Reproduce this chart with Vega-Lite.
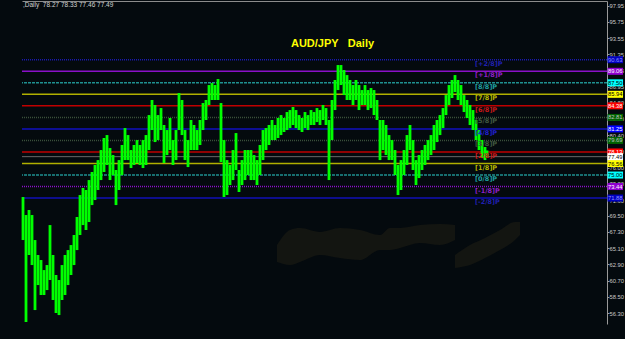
{
  "$schema": "https://vega.github.io/schema/vega-lite/v6.json",
  "width": 585,
  "height": 323,
  "autosize": {"type": "none"},
  "padding": {"left": 22, "top": 1, "right": 18, "bottom": 15},
  "background": "#040a0e",
  "config": {
    "view": {"stroke": null},
    "font": "Liberation Sans",
    "axis": {"grid": false, "title": null, "zindex": 0},
    "axisX": {"labels": false, "ticks": false, "domainColor": "#8c8c8c", "domainWidth": 1},
    "axisY": {"domainColor": "#9a9a9a", "tickColor": "#9a9a9a", "tickSize": 2, "labelPadding": 0,
              "labelColor": "#c8c8c8", "labelFontSize": 5.8, "labelFont": "Liberation Sans", "labelBound": false, "labelOverlap": false}
  },
  "title": {
    "text": "AUD/JPY\u00a0\u00a0\u00a0Daily",
    "color": "#ffff00",
    "font": "Liberation Sans",
    "fontSize": 11,
    "fontWeight": "bold",
    "anchor": "middle",
    "frame": "group",
    "orient": "top",
    "offset": -48,
    "dx": 18
  },
  "datasets": {
    "candles": [
      {"i":1,"h":72.02,"l":66.19},{"i":4,"h":69.58,"l":55.08},{"i":7,"h":70.26,"l":64.16},{"i":10,"h":69.58,"l":62.8},
      {"i":13,"h":66.19,"l":56.7},{"i":16,"h":64.16,"l":60.09},{"i":19,"h":63.48,"l":58.74},{"i":22,"h":62.12,"l":58.74},
      {"i":25,"h":62.8,"l":59.41},{"i":28,"h":68.22,"l":60.77},{"i":31,"h":64.16,"l":58.06},{"i":34,"h":61.45,"l":56.3},
      {"i":37,"h":60.77,"l":56.02},{"i":40,"h":62.8,"l":58.06},{"i":43,"h":64.16,"l":58.74},{"i":46,"h":64.83,"l":60.09},
      {"i":49,"h":65.51,"l":61.45},{"i":52,"h":66.87,"l":62.8},{"i":55,"h":69.31,"l":64.83},{"i":58,"h":72.29,"l":66.87},
      {"i":61,"h":73.24,"l":68.22},{"i":64,"h":72.97,"l":67.55},{"i":67,"h":74.32,"l":68.63},{"i":70,"h":75.41,"l":70.93},
      {"i":73,"h":76.36,"l":71.61},{"i":76,"h":77.03,"l":72.97},{"i":79,"h":78.39,"l":74.32},{"i":82,"h":80.02,"l":75.41},
      {"i":85,"h":80.42,"l":76.36},{"i":88,"h":78.66,"l":74.32},{"i":91,"h":77.71,"l":75.0},{"i":94,"h":75.68,"l":70.93},
      {"i":97,"h":77.03,"l":72.97},{"i":100,"h":79.07,"l":75.0},{"i":103,"h":81.37,"l":77.03},{"i":106,"h":80.42,"l":77.03},
      {"i":109,"h":78.39,"l":75.95},{"i":112,"h":79.07,"l":76.36},{"i":115,"h":79.74,"l":76.63},{"i":118,"h":79.07,"l":76.36},
      {"i":121,"h":79.74,"l":75.95},{"i":124,"h":80.42,"l":76.36},{"i":127,"h":83.13,"l":78.39},{"i":130,"h":85.17,"l":81.1},
      {"i":133,"h":84.49,"l":79.47},{"i":136,"h":83.13,"l":79.74},{"i":139,"h":84.08,"l":81.1},{"i":142,"h":81.78,"l":76.63},
      {"i":145,"h":81.1,"l":77.71},{"i":148,"h":82.73,"l":78.39},{"i":151,"h":79.74,"l":76.36},{"i":154,"h":81.1,"l":77.03},
      {"i":157,"h":86.11,"l":81.1},{"i":160,"h":85.17,"l":80.42},{"i":163,"h":81.1,"l":77.03},{"i":166,"h":79.74,"l":76.08},
      {"i":169,"h":82.46,"l":78.39},{"i":172,"h":81.78,"l":78.39},{"i":175,"h":81.1,"l":78.39},{"i":178,"h":82.46,"l":79.07},
      {"i":181,"h":84.76,"l":81.1},{"i":184,"h":85.17,"l":82.46},{"i":187,"h":87.2,"l":84.49},{"i":190,"h":87.47,"l":85.17},
      {"i":193,"h":87.2,"l":85.17},{"i":196,"h":88.01,"l":85.17},{"i":199,"h":84.76,"l":76.76},{"i":202,"h":79.74,"l":72.02},
      {"i":205,"h":77.03,"l":72.29},{"i":208,"h":76.36,"l":73.65},{"i":211,"h":78.39,"l":74.32},{"i":214,"h":80.69,"l":75.68},
      {"i":217,"h":75.68,"l":72.7},{"i":220,"h":77.03,"l":73.65},{"i":223,"h":78.39,"l":74.32},{"i":226,"h":78.39,"l":75.0},
      {"i":229,"h":78.39,"l":74.32},{"i":232,"h":77.71,"l":74.32},{"i":235,"h":77.03,"l":73.65},{"i":238,"h":79.07,"l":75.0},
      {"i":241,"h":81.1,"l":77.03},{"i":244,"h":81.37,"l":78.39},{"i":247,"h":81.78,"l":79.07},{"i":250,"h":82.46,"l":79.74},
      {"i":253,"h":81.78,"l":79.74},{"i":256,"h":82.73,"l":80.02},{"i":259,"h":83.13,"l":80.42},{"i":262,"h":82.73,"l":80.83},
      {"i":265,"h":83.54,"l":81.1},{"i":268,"h":83.81,"l":81.37},{"i":271,"h":84.22,"l":81.78},{"i":274,"h":83.81,"l":81.37},
      {"i":277,"h":83.13,"l":81.1},{"i":280,"h":82.73,"l":80.83},{"i":283,"h":83.54,"l":81.37},{"i":286,"h":83.13,"l":81.1},
      {"i":289,"h":83.81,"l":81.78},{"i":292,"h":83.54,"l":81.78},{"i":295,"h":84.08,"l":82.18},{"i":298,"h":83.81,"l":81.78},
      {"i":301,"h":84.49,"l":82.46},{"i":304,"h":84.08,"l":81.78},{"i":307,"h":82.46,"l":74.32},{"i":310,"h":85.17,"l":79.74},
      {"i":313,"h":87.88,"l":83.81},{"i":316,"h":89.91,"l":86.52},{"i":319,"h":89.91,"l":87.2},{"i":322,"h":89.23,"l":85.84},
      {"i":325,"h":88.55,"l":85.17},{"i":328,"h":87.88,"l":85.17},{"i":331,"h":87.2,"l":84.49},{"i":334,"h":87.88,"l":85.17},
      {"i":337,"h":87.2,"l":83.81},{"i":340,"h":86.52,"l":84.49},{"i":343,"h":87.2,"l":84.49},{"i":346,"h":86.52,"l":83.81},
      {"i":349,"h":86.79,"l":84.08},{"i":352,"h":86.52,"l":83.13},{"i":355,"h":85.17,"l":82.46},{"i":358,"h":82.46,"l":77.03},
      {"i":361,"h":82.46,"l":78.39},{"i":364,"h":81.78,"l":77.71},{"i":367,"h":80.42,"l":77.03},{"i":370,"h":79.74,"l":77.03},
      {"i":373,"h":78.39,"l":75.0},{"i":376,"h":76.36,"l":72.29},{"i":379,"h":77.03,"l":72.97},{"i":382,"h":78.39,"l":75.0},
      {"i":385,"h":80.42,"l":76.36},{"i":388,"h":81.78,"l":78.39},{"i":391,"h":79.74,"l":75.68},{"i":394,"h":77.03,"l":73.65},
      {"i":397,"h":77.71,"l":74.59},{"i":400,"h":78.39,"l":75.68},{"i":403,"h":79.07,"l":76.36},{"i":406,"h":79.74,"l":77.03},
      {"i":409,"h":80.42,"l":77.71},{"i":412,"h":81.78,"l":78.39},{"i":415,"h":82.46,"l":79.47},{"i":418,"h":83.13,"l":80.42},
      {"i":421,"h":84.08,"l":81.37},{"i":424,"h":85.84,"l":83.13},{"i":427,"h":87.2,"l":84.49},{"i":430,"h":87.88,"l":85.44},
      {"i":433,"h":88.55,"l":86.25},{"i":436,"h":87.88,"l":85.17},{"i":439,"h":87.2,"l":84.49},{"i":442,"h":85.84,"l":83.54},
      {"i":445,"h":85.17,"l":82.73},{"i":448,"h":84.49,"l":81.78},{"i":451,"h":83.81,"l":81.1},{"i":454,"h":82.46,"l":79.74},
      {"i":457,"h":81.1,"l":78.39},{"i":460,"h":79.74,"l":77.3},{"i":463,"h":78.8,"l":77.03},{"i":465,"h":78.33,"l":77.46}
    ],
    "levels": [
      {"lv":"[+2/8]P","p":90.63},{"lv":"[+1/8]P","p":89.06},{"lv":"[8/8]P","p":87.5},{"lv":"[7/8]P","p":85.94},
      {"lv":"[6/8]P","p":84.38},{"lv":"[5/8]P","p":82.81},{"lv":"[4/8]P","p":81.25},{"lv":"[3/8]P","p":79.69},
      {"lv":"[2/8]P","p":78.13},{"lv":"[1/8]P","p":76.56},{"lv":"[0/8]P","p":75.0},{"lv":"[-1/8]P","p":73.44},
      {"lv":"[-2/8]P","p":71.88}
    ],
    "cloud": [
      {"g":"a","i":255,"t":65.51,"b":63.21},{"g":"a","i":268,"t":67.55,"b":62.8},{"g":"a","i":278,"t":67.82,"b":63.21},
      {"g":"a","i":298,"t":67.28,"b":64.16},{"g":"a","i":318,"t":67.82,"b":63.75},{"g":"a","i":338,"t":67.55,"b":63.48},
      {"g":"a","i":358,"t":66.87,"b":64.83},{"g":"a","i":368,"t":67.82,"b":64.83},{"g":"a","i":378,"t":67.82,"b":65.11},
      {"g":"a","i":398,"t":68.22,"b":65.78},{"g":"a","i":418,"t":68.36,"b":65.51},{"g":"a","i":433,"t":68.22,"b":66.19},
      {"g":"b","i":433,"t":64.16,"b":62.4},{"g":"b","i":448,"t":65.51,"b":62.8},{"g":"b","i":463,"t":66.46,"b":63.75},
      {"g":"b","i":478,"t":67.55,"b":64.83},{"g":"b","i":493,"t":68.63,"b":66.19},{"g":"b","i":498,"t":68.63,"b":66.87}
    ]
  },
  "resolve": {"scale": {"color": "independent", "stroke": "independent", "fill": "independent"}},
  "layer": [
    {
      "data": {"name": "cloud"},
      "mark": {"type": "area", "color": "#1a1a12", "opacity": 0.7, "interpolate": "monotone"},
      "encoding": {
        "x": {"field": "i", "type": "quantitative", "scale": {"domain": [0, 585], "nice": false, "zero": false}, "axis": {"orient": "top"}},
        "y": {"field": "t", "type": "quantitative", "scale": {"domain": [54.81, 98.59], "nice": false, "zero": false},
          "axis": {"orient": "right", "values": [97.95,95.75,93.55,91.35,89.15,86.95,84.8,82.6,80.4,78.2,76.0,73.8,71.6,69.5,67.3,65.1,62.9,60.7,58.5,56.3], "format": ".2f"}},
        "y2": {"field": "b"},
        "detail": {"field": "g"}
      }
    },
    {
      "data": {"name": "levels"},
      "mark": {"type": "rule", "strokeWidth": 1.5},
      "encoding": {
        "y": {"field": "p", "type": "quantitative", "scale": {"domain": [54.81, 98.59], "nice": false, "zero": false},
          "axis": {"orient": "right", "values": [97.95,95.75,93.55,91.35,89.15,86.95,84.8,82.6,80.4,78.2,76.0,73.8,71.6,69.5,67.3,65.1,62.9,60.7,58.5,56.3], "format": ".2f"}},
        "stroke": {"field": "lv", "type": "nominal", "legend": null,
          "scale": {"domain": ["[+2/8]P","[+1/8]P","[8/8]P","[7/8]P","[6/8]P","[5/8]P","[4/8]P","[3/8]P","[2/8]P","[1/8]P","[0/8]P","[-1/8]P","[-2/8]P"],
                    "range": ["#1818b0","#8a10c8","#1e9090","#b0b000","#c00000","#3a503a","#1010c0","#3a503a","#c00000","#b0b000","#1e9090","#8a10c8","#1010b8"]}},
        "strokeDash": {"field": "lv", "type": "nominal", "legend": null,
          "scale": {"domain": ["[+2/8]P","[+1/8]P","[8/8]P","[7/8]P","[6/8]P","[5/8]P","[4/8]P","[3/8]P","[2/8]P","[1/8]P","[0/8]P","[-1/8]P","[-2/8]P"],
                    "range": [[1,1],[1,0],[3,1],[1,0],[1,0],[1,1],[1,0],[1,1],[1,0],[1,0],[3,1],[1,1],[1,0]]}}
      }
    },
    {
      "data": {"values": [{"p": 77.49}]},
      "mark": {"type": "rule", "stroke": "#6a6a6a", "strokeWidth": 1},
      "encoding": {
        "y": {"field": "p", "type": "quantitative", "scale": {"domain": [54.81, 98.59], "nice": false, "zero": false},
          "axis": {"orient": "right", "values": [97.95,95.75,93.55,91.35,89.15,86.95,84.8,82.6,80.4,78.2,76.0,73.8,71.6,69.5,67.3,65.1,62.9,60.7,58.5,56.3], "format": ".2f"}}
      }
    },
    {
      "data": {"name": "candles"},
      "mark": {"type": "rule", "stroke": "#00ff00", "strokeWidth": 2.8},
      "encoding": {
        "x": {"field": "i", "type": "quantitative", "scale": {"domain": [0, 585], "nice": false, "zero": false}, "axis": {"orient": "top"}},
        "y": {"field": "h", "type": "quantitative", "scale": {"domain": [54.81, 98.59], "nice": false, "zero": false},
          "axis": {"orient": "right", "values": [97.95,95.75,93.55,91.35,89.15,86.95,84.8,82.6,80.4,78.2,76.0,73.8,71.6,69.5,67.3,65.1,62.9,60.7,58.5,56.3], "format": ".2f"}},
        "y2": {"field": "l"}
      }
    },
    {
      "data": {"name": "levels"},
      "mark": {"type": "text", "align": "left", "baseline": "middle", "dy": 4, "fontSize": 6.5, "fontWeight": "bold", "font": "DejaVu Sans"},
      "encoding": {
        "x": {"datum": 453, "type": "quantitative", "scale": {"domain": [0, 585], "nice": false, "zero": false}, "axis": {"orient": "top"}},
        "y": {"field": "p", "type": "quantitative", "scale": {"domain": [54.81, 98.59], "nice": false, "zero": false},
          "axis": {"orient": "right", "values": [97.95,95.75,93.55,91.35,89.15,86.95,84.8,82.6,80.4,78.2,76.0,73.8,71.6,69.5,67.3,65.1,62.9,60.7,58.5,56.3], "format": ".2f"}},
        "text": {"field": "lv"},
        "color": {"field": "lv", "type": "nominal", "legend": null,
          "scale": {"domain": ["[+2/8]P","[+1/8]P","[8/8]P","[7/8]P","[6/8]P","[5/8]P","[4/8]P","[3/8]P","[2/8]P","[1/8]P","[0/8]P","[-1/8]P","[-2/8]P"],
                    "range": ["#2020b0","#9020c8","#20a0a0","#b8b800","#c81818","#405840","#2020d0","#405840","#c81818","#b8b800","#20a0a0","#9020c8","#2020b0"]}}
      }
    },
    {
      "data": {"name": "levels"},
      "mark": {"type": "rect", "yOffset": -3.5, "y2Offset": 3.5},
      "encoding": {
        "x": {"datum": 585.5, "type": "quantitative", "scale": {"domain": [0, 585], "nice": false, "zero": false}, "axis": {"orient": "top"}},
        "x2": {"datum": 601},
        "y": {"field": "p", "type": "quantitative", "scale": {"domain": [54.81, 98.59], "nice": false, "zero": false},
          "axis": {"orient": "right", "values": [97.95,95.75,93.55,91.35,89.15,86.95,84.8,82.6,80.4,78.2,76.0,73.8,71.6,69.5,67.3,65.1,62.9,60.7,58.5,56.3], "format": ".2f"}},
        "y2": {"field": "p"},
        "fill": {"field": "lv", "type": "nominal", "legend": null,
          "scale": {"domain": ["[+2/8]P","[+1/8]P","[8/8]P","[7/8]P","[6/8]P","[5/8]P","[4/8]P","[3/8]P","[2/8]P","[1/8]P","[0/8]P","[-1/8]P","[-2/8]P"],
                    "range": ["#0000c0","#9000d0","#00ffff","#ffff00","#ff0000","#006400","#0000ff","#006400","#ff0000","#ffff00","#00ffff","#9000d0","#0000c0"]}}
      }
    },
    {
      "data": {"values": [{"p": 77.49}]},
      "mark": {"type": "rect", "fill": "#ffffff", "yOffset": -3.5, "y2Offset": 3.5},
      "encoding": {
        "x": {"datum": 585.5, "type": "quantitative", "scale": {"domain": [0, 585], "nice": false, "zero": false}, "axis": {"orient": "top"}},
        "x2": {"datum": 601},
        "y": {"field": "p", "type": "quantitative", "scale": {"domain": [54.81, 98.59], "nice": false, "zero": false},
          "axis": {"orient": "right", "values": [97.95,95.75,93.55,91.35,89.15,86.95,84.8,82.6,80.4,78.2,76.0,73.8,71.6,69.5,67.3,65.1,62.9,60.7,58.5,56.3], "format": ".2f"}},
        "y2": {"field": "p"}
      }
    },
    {
      "data": {"name": "levels"},
      "mark": {"type": "text", "align": "center", "baseline": "middle", "fontSize": 5.8, "font": "Liberation Sans"},
      "encoding": {
        "x": {"datum": 593.3, "type": "quantitative", "scale": {"domain": [0, 585], "nice": false, "zero": false}, "axis": {"orient": "top"}},
        "y": {"field": "p", "type": "quantitative", "scale": {"domain": [54.81, 98.59], "nice": false, "zero": false},
          "axis": {"orient": "right", "values": [97.95,95.75,93.55,91.35,89.15,86.95,84.8,82.6,80.4,78.2,76.0,73.8,71.6,69.5,67.3,65.1,62.9,60.7,58.5,56.3], "format": ".2f"}},
        "text": {"field": "p", "format": ".2f"},
        "color": {"field": "lv", "type": "nominal", "legend": null,
          "scale": {"domain": ["[+2/8]P","[+1/8]P","[8/8]P","[7/8]P","[6/8]P","[5/8]P","[4/8]P","[3/8]P","[2/8]P","[1/8]P","[0/8]P","[-1/8]P","[-2/8]P"],
                    "range": ["#9090ff","#ffffff","#000000","#000000","#ffffff","#c0c0c0","#ffffff","#c0c0c0","#ffffff","#000000","#000000","#ffffff","#9090ff"]}}
      }
    },
    {
      "data": {"values": [{"p": 77.49}]},
      "mark": {"type": "text", "align": "center", "baseline": "middle", "fontSize": 5.8, "color": "#000000", "font": "Liberation Sans"},
      "encoding": {
        "x": {"datum": 593.3, "type": "quantitative", "scale": {"domain": [0, 585], "nice": false, "zero": false}, "axis": {"orient": "top"}},
        "y": {"field": "p", "type": "quantitative", "scale": {"domain": [54.81, 98.59], "nice": false, "zero": false},
          "axis": {"orient": "right", "values": [97.95,95.75,93.55,91.35,89.15,86.95,84.8,82.6,80.4,78.2,76.0,73.8,71.6,69.5,67.3,65.1,62.9,60.7,58.5,56.3], "format": ".2f"}},
        "text": {"field": "p", "format": ".2f"}
      }
    },
    {
      "data": {"values": [{"t": ",Daily\u00a0\u00a078.27 78.33 77.46 77.49"}]},
      "mark": {"type": "text", "align": "left", "baseline": "middle", "fontSize": 6.5, "color": "#d0d0d0", "font": "Liberation Sans"},
      "encoding": {
        "x": {"datum": 1, "type": "quantitative", "scale": {"domain": [0, 585], "nice": false, "zero": false}, "axis": {"orient": "top"}},
        "y": {"datum": 98.0, "type": "quantitative", "scale": {"domain": [54.81, 98.59], "nice": false, "zero": false},
          "axis": {"orient": "right", "values": [97.95,95.75,93.55,91.35,89.15,86.95,84.8,82.6,80.4,78.2,76.0,73.8,71.6,69.5,67.3,65.1,62.9,60.7,58.5,56.3], "format": ".2f"}},
        "text": {"field": "t"}
      }
    }
  ]
}
